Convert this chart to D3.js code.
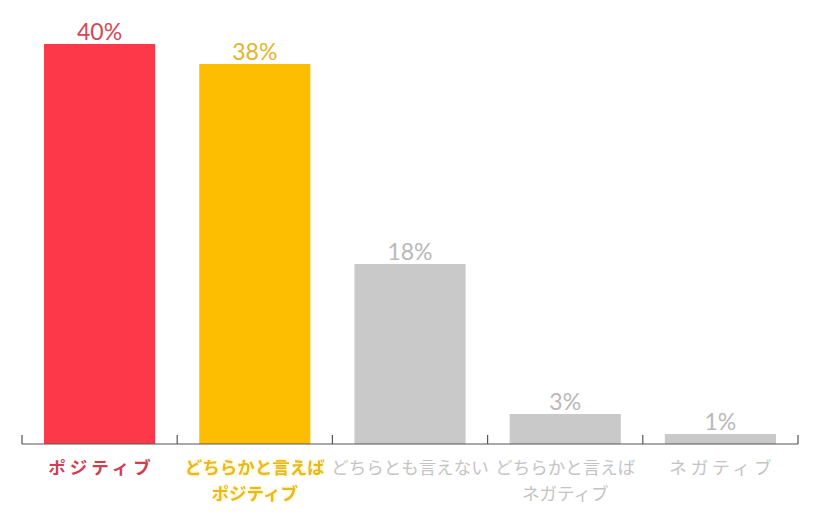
<!DOCTYPE html>
<html>
<head>
<meta charset="utf-8">
<script src="https://cdn.jsdelivr.net/npm/d3@7"></script>
<style>
  body { margin: 0; background: #fff; }
  svg { display: block; }
</style>
</head>
<body>
<div id="chart"></div>
<script>
// データ
var categories = [["ポジティブ"], ["どちらかと言えば", "ポジティブ"], ["どちらとも言えない"], ["どちらかと言えば", "ネガティブ"], ["ネガティブ"]];
var values = [40, 38, 18, 3, 1];
var barColors = ["#fd3849", "#fdbd00", "#c9c9c9", "#c9c9c9", "#c9c9c9"];
var valueColors = ["#d4475a", "#e2b52a", "#b9b9b9", "#b9b9b9", "#b9b9b9"];
var labelColors = ["#d13e52", "#e9b91c", "#c4c4c4", "#c4c4c4", "#c4c4c4"];

var width = 818, height = 521;
var left = 22, right = 798, baseline = 444;

var svg = d3.select("#chart").append("svg")
  .attr("width", width)
  .attr("height", height);

var defs = svg.append("defs");
var glow = defs.append("filter").attr("id", "glow").attr("x", "-20%").attr("y", "-40%").attr("width", "140%").attr("height", "180%");
glow.append("feGaussianBlur").attr("in", "SourceAlpha").attr("stdDeviation", 1.6).attr("result", "b");
glow.append("feFlood").attr("flood-color", "#fff3b0").attr("result", "c");
glow.append("feComposite").attr("in", "c").attr("in2", "b").attr("operator", "in").attr("result", "g");
var m = glow.append("feMerge");
m.append("feMergeNode").attr("in", "g");
m.append("feMergeNode").attr("in", "g");
m.append("feMergeNode").attr("in", "SourceGraphic");

var idx = d3.range(values.length);

var x = d3.scaleBand()
  .domain(idx)
  .range([left, right])
  .paddingInner(0.284)
  .paddingOuter(0.142);

var y = d3.scaleLinear()
  .domain([0, 40])
  .range([baseline, 44]);

// 棒
svg.selectAll("rect.bar")
  .data(idx)
  .enter().append("rect")
  .attr("class", "bar")
  .attr("x", function(i) { return x(i); })
  .attr("y", function(i) { return y(values[i]); })
  .attr("width", x.bandwidth())
  .attr("height", function(i) { return baseline - y(values[i]); })
  .style("fill", function(i) { return barColors[i]; });

// 数値ラベル
svg.selectAll("text.val")
  .data(idx)
  .enter().append("text")
  .attr("class", "val")
  .attr("x", function(i) { return x(i) + x.bandwidth() / 2; })
  .attr("y", function(i) { return y(values[i]) - 4; })
  .attr("text-anchor", "middle")
  .style("font-family", "'Lato', 'Noto Sans', sans-serif")
  .style("font-size", "23px")
  .style("fill", function(i) { return valueColors[i]; })
  .text(function(i) { return values[i] + "%"; });

// 軸
var axis = svg.append("g");
axis.append("line")
  .attr("x1", left).attr("x2", right)
  .attr("y1", baseline).attr("y2", baseline)
  .style("stroke", "#555").style("stroke-width", 1.2);

var bounds = idx.map(function(i) { return x(i) - x.step() * x.paddingOuter(); });
bounds.push(right);
axis.selectAll("line.tick")
  .data(bounds)
  .enter().append("line")
  .attr("class", "tick")
  .attr("x1", function(d) { return d; }).attr("x2", function(d) { return d; })
  .attr("y1", baseline).attr("y2", baseline - 9)
  .style("stroke", "#555").style("stroke-width", 1.2);

// カテゴリラベル
var lab = svg.selectAll("text.cat")
  .data(idx)
  .enter().append("text")
  .attr("class", "cat")
  .attr("text-anchor", "middle")
  .attr("filter", function(i) { return i === 1 ? "url(#glow)" : null; })
  .style("font-family", "'Noto Sans CJK JP', sans-serif")
  .style("font-size", "17.5px")
  .style("font-weight", function(i) { return i < 2 ? "bold" : "normal"; })
  .style("fill", function(i) { return labelColors[i]; });

lab.each(function(i) {
  var t = d3.select(this);
  categories[i].forEach(function(line, k) {
    var spaced = categories[i].length === 1 && line.length <= 5;
    t.append("tspan")
      .attr("x", x(i) + x.bandwidth() / 2 + (spaced ? 2 : 0))
      .attr("y", 474 + k * 26)
      .style("letter-spacing", spaced ? "4px" : "0px")
      .text(line);
  });
});
</script>
</body>
</html>
